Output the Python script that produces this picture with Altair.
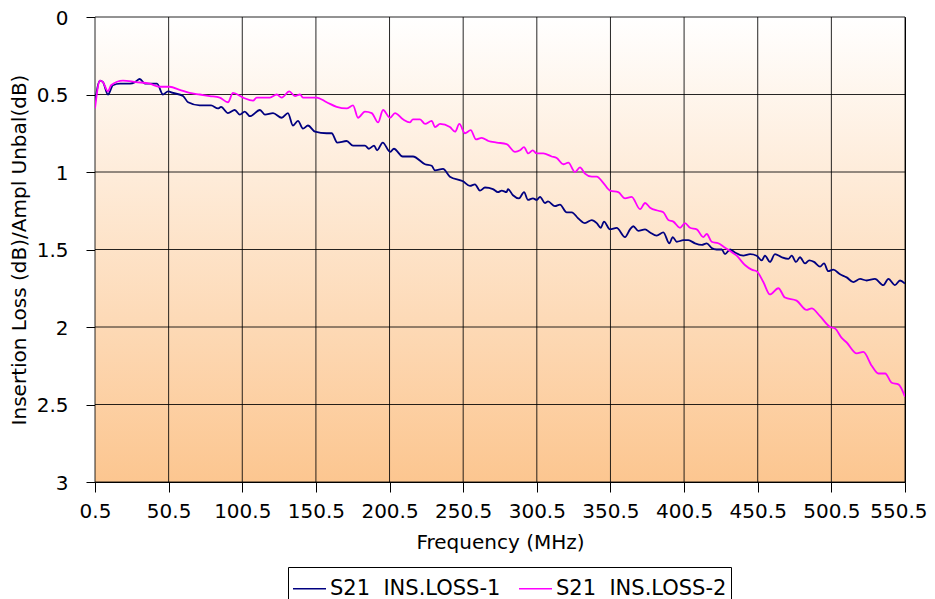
import altair as alt
import pandas as pd

# Series 1: S21 INS.LOSS-1 (navy)
freq1 = [0.5, 3.9, 5.9, 9.3, 12.7, 17.5, 24.3, 27.7, 30.9, 34.4, 37.8, 42.6, 46.7, 50.1, 53.5,
         60.3, 63.7, 71.6, 79.3, 84.0, 86.1, 90.8, 95.4, 98.8, 102.2, 105.7, 112.5, 115.9, 121.4,
         127.3, 131.5, 134.9, 138.3, 141.7, 145.1, 149.9, 157.8, 161.2, 165.0, 171.4, 175.7, 183.8,
         186.5, 190.0, 192.0, 195.9, 200.8, 203.5, 209.4, 216.4, 224.6, 229.1, 231.4, 236.8, 241.5,
         250.4, 255.1, 258.5, 261.9, 265.3, 270.7, 274.1, 276.7, 280.0, 280.9, 284.3, 288.4, 291.8,
         294.5, 297.9, 300.4, 302.7, 306.0, 308.1, 312.8, 316.2, 320.8, 324.2, 328.7, 333.2, 337.8,
         341.2, 343.9, 346.1, 350.2, 354.7, 360.4, 363.8, 366.0, 369.4, 374.0, 377.4, 381.9, 386.4,
         390.5, 392.8, 395.5, 400.0, 403.4, 407.9, 412.5, 415.9, 419.2, 422.6, 426.1, 428.3, 431.7,
         435.1, 440.7, 445.3, 449.8, 453.2, 455.4, 458.8, 462.2, 466.8, 471.3, 473.6, 476.5, 479.2,
         482.6, 485.5, 488.7, 492.8, 495.5, 498.4, 501.8, 506.4, 510.9, 515.4, 520.0, 524.5, 530.1,
         535.8, 539.2, 543.7, 547.1, 550.5]
loss1 = [0.55, 0.41, 0.42, 0.50, 0.44, 0.43, 0.43, 0.42, 0.40, 0.43, 0.43, 0.43, 0.50, 0.48, 0.49,
         0.51, 0.55, 0.57, 0.57, 0.59, 0.58, 0.62, 0.60, 0.63, 0.61, 0.64, 0.60, 0.63, 0.62,
         0.65, 0.62, 0.70, 0.67, 0.72, 0.70, 0.74, 0.75, 0.75, 0.81, 0.80, 0.83, 0.83,
         0.85, 0.83, 0.86, 0.81, 0.87, 0.85, 0.90, 0.90, 0.95, 0.96, 0.99, 0.98, 1.03,
         1.06, 1.09, 1.08, 1.12, 1.10, 1.11, 1.13, 1.12, 1.13, 1.11, 1.15, 1.17, 1.13,
         1.18, 1.17, 1.18, 1.16, 1.20, 1.19, 1.22, 1.21, 1.26, 1.26, 1.30, 1.33, 1.31,
         1.33, 1.36, 1.32, 1.37, 1.36, 1.42, 1.37, 1.35, 1.38, 1.37, 1.39, 1.41, 1.39,
         1.46, 1.42, 1.45, 1.44, 1.44, 1.46, 1.47, 1.46, 1.49, 1.50, 1.50, 1.53, 1.50,
         1.52, 1.54, 1.53, 1.54, 1.57, 1.54, 1.58, 1.53, 1.55, 1.56, 1.54, 1.58, 1.55,
         1.59, 1.57, 1.58, 1.61, 1.59, 1.64, 1.63, 1.66, 1.68, 1.71, 1.69, 1.70, 1.69,
         1.73, 1.69, 1.73, 1.70, 1.72]

# Series 2: S21 INS.LOSS-2 (magenta)
freq2 = [0.5, 3.9, 5.9, 9.3, 11.4, 19.5, 28.3, 37.6, 44.4, 51.2, 58.0, 64.8, 71.6, 78.4, 85.2,
         90.8, 94.2, 101.0, 107.8, 110.3, 119.3, 123.9, 127.3, 132.4, 136.3, 139.7, 141.7, 151.0,
         157.8, 164.6, 171.4, 175.7, 179.1, 183.8, 188.4, 192.7, 196.1, 200.8, 204.2, 209.6, 214.4,
         216.4, 221.2, 224.6, 229.1, 231.4, 234.8, 241.5, 245.0, 247.9, 251.7, 255.6, 259.2, 263.1,
         267.6, 273.3, 280.0, 285.7, 289.1, 291.8, 294.7, 297.7, 300.4, 304.9, 310.6, 314.0, 318.5,
         321.9, 326.4, 329.8, 333.2, 337.8, 341.2, 345.6, 350.2, 355.8, 360.4, 364.9, 370.6, 374.0,
         377.4, 383.0, 386.4, 389.8, 393.2, 397.7, 401.1, 404.5, 409.1, 413.5, 415.9, 419.2, 423.7,
         427.1, 431.7, 436.2, 441.8, 446.4, 449.8, 454.3, 458.8, 464.5, 469.0, 476.9, 483.7, 487.1,
         492.8, 499.6, 503.0, 507.5, 510.9, 517.7, 522.2, 527.9, 532.4, 537.0, 541.5, 546.0, 550.5]
loss2 = [0.59, 0.41, 0.42, 0.48, 0.44, 0.41, 0.42, 0.43, 0.45, 0.45, 0.47, 0.49, 0.50, 0.51, 0.52,
         0.55, 0.49, 0.52, 0.54, 0.52, 0.52, 0.50, 0.52, 0.48, 0.51, 0.50, 0.52, 0.52,
         0.55, 0.58, 0.59, 0.57, 0.65, 0.61, 0.62, 0.68, 0.60, 0.65, 0.62, 0.66, 0.68,
         0.66, 0.66, 0.69, 0.67, 0.71, 0.69, 0.71, 0.74, 0.69, 0.75, 0.73, 0.79, 0.78,
         0.80, 0.81, 0.82, 0.87, 0.86, 0.84, 0.88, 0.86, 0.88, 0.88, 0.90, 0.91, 0.95,
         0.94, 1.00, 0.97, 1.01, 1.03, 1.03, 1.07, 1.12, 1.13, 1.17, 1.16, 1.24, 1.20,
         1.23, 1.25, 1.26, 1.31, 1.32, 1.36, 1.33, 1.36, 1.37, 1.42, 1.40, 1.45, 1.46,
         1.48, 1.51, 1.54, 1.60, 1.63, 1.64, 1.71, 1.79, 1.75, 1.81, 1.83, 1.89, 1.88,
         1.93, 2.00, 2.01, 2.07, 2.10, 2.17, 2.16, 2.25, 2.30, 2.30, 2.36, 2.37, 2.45]

series_names = ["S21\u00a0 INS.LOSS-1", "S21\u00a0 INS.LOSS-2"]
series_colors = ["#000080", "#FF00FF"]
x_ticks = [0.5, 50.5, 100.5, 150.5, 200.5, 250.5, 300.5, 350.5, 400.5, 450.5, 500.5, 550.5]
y_ticks = [0, 0.5, 1, 1.5, 2, 2.5, 3]

df = pd.concat([
    pd.DataFrame({"freq": freq1, "loss": loss1, "series": series_names[0], "order": range(len(freq1))}),
    pd.DataFrame({"freq": freq2, "loss": loss2, "series": series_names[1], "order": range(len(freq2))}),
])
vgrid = pd.DataFrame({"freq": x_ticks})
hgrid = pd.DataFrame({"loss": y_ticks})

FONT = "DejaVu Sans"
W, H = 810, 465

x_enc = alt.X("freq:Q",
              scale=alt.Scale(domain=[0.5, 550.5], nice=False, zero=False),
              axis=alt.Axis(values=x_ticks, format=".1f", title="Frequency (MHz)",
                            labelAlign={"expr": "datum.value > 550 ? 'right' : 'center'"},
                            labelOffset={"expr": "datum.value > 550 ? 22 : 0"},
                            tickSize=10, labelPadding=9, titlePadding=11,
                            labelOverlap=False, labelFlush=False))
y_enc = alt.Y("loss:Q",
              scale=alt.Scale(domain=[0, 3], reverse=True, nice=False),
              axis=alt.Axis(values=y_ticks, format="~g", title="Insertion Loss (dB)/Ampl Unbal(dB)",
                            tickSize=9, labelPadding=18, titlePadding=7,
                            labelBaseline="alphabetic", labelOffset=7,
                            labelOverlap=False, labelFlush=False))

background = alt.Chart(pd.DataFrame({"a": [0]})).mark_rect(
    fill=alt.Gradient(gradient="linear",
                      stops=[alt.GradientStop(color="#FFFFFF", offset=0),
                             alt.GradientStop(color="#FCC690", offset=1)],
                      x1=0, x2=0, y1=0, y2=1),
).encode(x=alt.value(0), x2=alt.value(W), y=alt.value(0), y2=alt.value(H))

vlines = alt.Chart(vgrid).mark_rule(color="black", strokeWidth=1, opacity=0.85).encode(x=x_enc)
hlines = alt.Chart(hgrid).mark_rule(color="black", strokeWidth=1, opacity=0.85).encode(y=y_enc)

lines = alt.Chart(df).mark_line(strokeWidth=1.8, clip=True, interpolate="monotone").encode(
    x=x_enc,
    y=y_enc,
    color=alt.Color("series:N",
                    scale=alt.Scale(domain=series_names, range=series_colors),
                    legend=alt.Legend(orient="none", legendX=193, legendY=550,
                                      direction="horizontal", title=None,
                                      symbolType="stroke", symbolSize=1089,
                                      symbolStrokeWidth=1.6, labelFont=FONT,
                                      labelFontSize=21, labelColor="black",
                                      strokeColor="black", fillColor="white",
                                      padding=4, columnPadding=14, labelOffset=3,
                                      labelLimit=400)),
    order="order:Q",
)

chart = alt.layer(background, vlines, hlines, lines).properties(
    width=W, height=H,
    autosize=alt.AutoSizeParams(type="none"),
    padding={"left": 87, "top": 9, "right": 22, "bottom": 117},
).configure_view(
    stroke="black", strokeWidth=1,
).configure_axis(
    labelFont=FONT, labelFontSize=20, labelColor="black",
    titleFont=FONT, titleFontSize=20, titleColor="black", titleFontWeight="normal",
    grid=False,
    domainColor="black", tickColor="black", domainWidth=1, tickWidth=1,
)

chart.save("out.html", embed_options={"renderer": "svg", "actions": False})
